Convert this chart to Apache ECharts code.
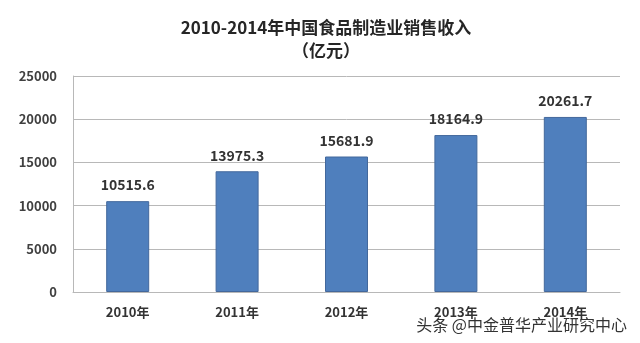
<!DOCTYPE html>
<html>
<head>
<meta charset="utf-8">
<script src="https://cdn.jsdelivr.net/npm/echarts@6/dist/echarts.min.js"></script>
<style>html,body{margin:0;padding:0;background:#fff;}#c{width:640px;height:343px;}</style>
</head>
<body>
<div id="c"></div>
<script>
var categories = ['2010年', '2011年', '2012年', '2013年', '2014年'];
var values = [10515.6, 13975.3, 15681.9, 18164.9, 20261.7];
var yTicks = [0, 5000, 10000, 15000, 20000, 25000];
var titleText = '2010-2014年中国食品制造业销售收入\n（亿元）';
var watermark = '头条 @中金普华产业研究中心';

var chart = echarts.init(document.getElementById('c'));
chart.setOption({
  animation: false,
  backgroundColor: '#ffffff',
  title: {
    text: titleText,
    left: 321, top: 11, textAlign: 'center',
    textStyle: { fontFamily: 'Noto Sans CJK SC', fontWeight: 'bold', fontSize: 17, lineHeight: 23, color: '#262626' }
  },
  grid: { left: 73, right: 20, top: 76, bottom: 51 },
  xAxis: {
    type: 'category', data: categories,
    axisLine: { lineStyle: { color: '#b8b8b8', width: 1 } },
    axisTick: { show: false },
    axisLabel: { margin: 14, fontFamily: 'Noto Sans CJK SC', fontWeight: 'bold', fontSize: 13, color: '#333' }
  },
  yAxis: {
    type: 'value', min: yTicks[0], max: yTicks[yTicks.length - 1], interval: 5000,
    axisLine: { show: true, lineStyle: { color: '#b8b8b8', width: 1 } },
    axisTick: { show: false },
    splitLine: { lineStyle: { color: '#b8b8b8', width: 1 } },
    axisLabel: { margin: 16, fontFamily: 'Noto Sans CJK SC', fontWeight: 'bold', fontSize: 13, color: '#404040',
      formatter: function (v) { return String(v); } }
  },
  series: [{
    type: 'bar', data: values, barWidth: 43,
    itemStyle: { color: '#4f7fbd', borderColor: '#43689c', borderWidth: 1 },
    label: { show: true, position: 'top', distance: 9, fontFamily: 'Noto Sans CJK SC', fontWeight: 'bold', fontSize: 14, color: '#333',
      formatter: function (p) { return p.value.toFixed(1); } }
  }],
  graphic: [{
    type: 'text', right: 12, top: 316,
    style: { text: watermark, fontFamily: 'Noto Sans CJK SC', fontSize: 16, fill: '#333', stroke: '#fff', lineWidth: 2 }
  }]
});
</script>
</body>
</html>
